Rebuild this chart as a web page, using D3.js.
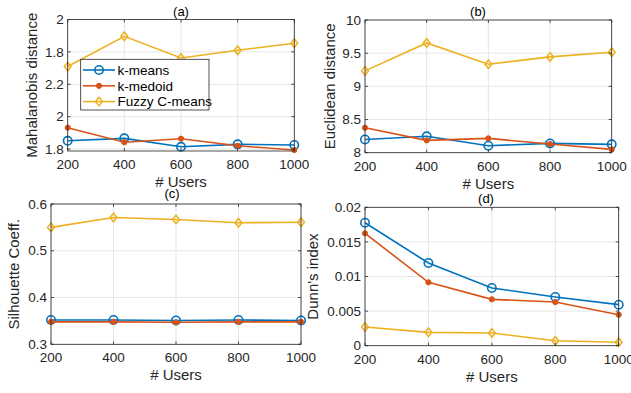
<!DOCTYPE html>
<html>
<head>
<meta charset="utf-8">
<script src="https://cdn.jsdelivr.net/npm/d3@7"></script>
<style>
  body { margin: 0; background: #fff; }
  svg { font-family: "Liberation Sans", Arial, sans-serif; }
</style>
</head>
<body>
<div id="chart"></div>
<script>
// Data
const users = [200, 400, 600, 800, 1000];
const seriesNames = ['k-means', 'k-medoid', 'Fuzzy C-means'];

// (a) plotted on a relabelled axis (ticks 1.8..2.6 shown as 1.8, 2, 2.2, 1.8, 2)
const mahaKmeans = [1.851, 1.866, 1.814, 1.829, 1.825];
const mahaKmedoid = [1.932, 1.842, 1.864, 1.820, 1.794];
const mahaFuzzy = [2.310, 2.496, 2.362, 2.410, 2.453];
const mahaTicks = [1.8, 2.0, 2.2, 2.4, 2.6];
const mahaTickLabels = ['1.8', '2', '2.2', '1.8', '2'];

const euclKmeans = [8.20, 8.247, 8.105, 8.14, 8.126];
const euclKmedoid = [8.376, 8.186, 8.216, 8.13, 8.05];
const euclFuzzy = [9.233, 9.654, 9.334, 9.444, 9.514];
const euclTicks = [8, 8.5, 9, 9.5, 10];
const euclTickLabels = ['8', '8.5', '9', '9.5', '10'];

const silKmeans = [0.352, 0.352, 0.351, 0.352, 0.351];
const silKmedoid = [0.348, 0.348, 0.347, 0.348, 0.348];
const silFuzzy = [0.550, 0.571, 0.567, 0.560, 0.561];
const silTicks = [0.3, 0.4, 0.5, 0.6];
const silTickLabels = ['0.3', '0.4', '0.5', '0.6'];

const dunnKmeans = [0.01777, 0.01195, 0.00834, 0.00704, 0.00593];
const dunnKmedoid = [0.01624, 0.00916, 0.0067, 0.00631, 0.00448];
const dunnFuzzy = [0.0027, 0.00193, 0.00183, 0.00072, 0.00049];
const dunnTicks = [0, 0.005, 0.01, 0.015, 0.02];
const dunnTickLabels = ['0', '0.005', '0.01', '0.015', '0.02'];

const colors = ['#0072BD', '#D95319', '#EDB120'];
const axisColor = '#262626';
const gridColor = '#e6e6e6';

const svg = d3.select('#chart').append('svg')
    .attr('width', 631)
    .attr('height', 393);

function drawMarker(g, type, x, y, color) {
    if (type === 0) {
        g.append('circle').attr('cx', x).attr('cy', y).attr('r', 4.2)
            .attr('fill', 'none').attr('stroke', color).attr('stroke-width', 1.6);
    } else if (type === 1) {
        g.append('circle').attr('cx', x).attr('cy', y).attr('r', 2.6)
            .attr('fill', color).attr('stroke', color).attr('stroke-width', 1);
    } else {
        const s = 4.3;
        g.append('path')
            .attr('d', `M${x},${y - s}L${x + s * 0.8},${y}L${x},${y + s}L${x - s * 0.8},${y}Z`)
            .attr('fill', 'none').attr('stroke', color).attr('stroke-width', 1.5);
    }
}

function drawPanel(p) {
    const x = d3.scaleLinear().domain([200, 1000]).range([p.left, p.right]);
    const y = d3.scaleLinear().domain(p.yDomain).range([p.bottom, p.top]);
    const g = svg.append('g');

    // grid
    g.selectAll('.vgrid').data(users).enter().append('line')
        .attr('x1', d => x(d)).attr('x2', d => x(d))
        .attr('y1', p.top).attr('y2', p.bottom)
        .attr('stroke', gridColor).attr('stroke-width', 1);
    g.selectAll('.hgrid').data(p.ticks).enter().append('line')
        .attr('x1', p.left).attr('x2', p.right)
        .attr('y1', d => y(d)).attr('y2', d => y(d))
        .attr('stroke', gridColor).attr('stroke-width', 1);

    // series
    const line = d3.line().x((d, i) => x(users[i])).y(d => y(d));
    p.series.forEach((vals, si) => {
        g.append('path').datum(vals)
            .attr('d', line)
            .attr('fill', 'none')
            .attr('stroke', colors[si])
            .attr('stroke-width', 1.6);
        vals.forEach((v, i) => drawMarker(g, si, x(users[i]), y(v), colors[si]));
    });

    // box + inward ticks
    g.append('rect')
        .attr('x', p.left).attr('y', p.top)
        .attr('width', p.right - p.left).attr('height', p.bottom - p.top)
        .attr('fill', 'none').attr('stroke', axisColor).attr('stroke-width', 0.8);
    users.forEach(u => {
        g.append('line').attr('x1', x(u)).attr('x2', x(u)).attr('y1', p.bottom).attr('y2', p.bottom - 3)
            .attr('stroke', axisColor).attr('stroke-width', 0.8);
        g.append('line').attr('x1', x(u)).attr('x2', x(u)).attr('y1', p.top).attr('y2', p.top + 3)
            .attr('stroke', axisColor).attr('stroke-width', 0.8);
    });
    p.ticks.forEach(t => {
        g.append('line').attr('x1', p.left).attr('x2', p.left + 3).attr('y1', y(t)).attr('y2', y(t))
            .attr('stroke', axisColor).attr('stroke-width', 0.8);
        g.append('line').attr('x1', p.right).attr('x2', p.right - 3).attr('y1', y(t)).attr('y2', y(t))
            .attr('stroke', axisColor).attr('stroke-width', 0.8);
    });

    // tick labels
    g.selectAll('.xt').data(users).enter().append('text')
        .attr('x', d => x(d)).attr('y', p.bottom + 18)
        .attr('text-anchor', 'middle')
        .attr('font-size', '13.5px').attr('fill', axisColor)
        .text(d => d);
    g.selectAll('.yt').data(p.ticks).enter().append('text')
        .attr('x', p.left - 4).attr('y', d => y(d)).attr('dy', '0.35em')
        .attr('text-anchor', 'end')
        .attr('font-size', '13.5px').attr('fill', axisColor)
        .text((d, i) => p.tickLabels[i]);

    // labels
    g.append('text')
        .attr('x', (p.left + p.right) / 2).attr('y', p.bottom + 36)
        .attr('text-anchor', 'middle').attr('font-size', '15px').attr('fill', axisColor)
        .text('# Users');
    g.append('text')
        .attr('transform', `translate(${p.yLabelX},${(p.top + p.bottom) / 2}) rotate(-90)`)
        .attr('dy', '0.35em')
        .attr('text-anchor', 'middle').attr('font-size', '15px').attr('fill', axisColor)
        .text(p.yLabel);
    g.append('text')
        .attr('x', p.titleX).attr('y', p.titleY)
        .attr('text-anchor', 'middle').attr('font-size', '13px').attr('fill', '#000')
        .text(p.title);
    return { g, x, y };
}

const pa = drawPanel({
    left: 67.7, right: 294.3, top: 19.5, bottom: 151,
    yDomain: [1.788, 2.6], ticks: mahaTicks, tickLabels: mahaTickLabels,
    series: [mahaKmeans, mahaKmedoid, mahaFuzzy],
    yLabel: 'Mahalanobis distance', yLabelX: 32,
    title: '(a)', titleX: 181, titleY: 16
});
drawPanel({
    left: 365, right: 611.7, top: 20, bottom: 152.7,
    yDomain: [8, 10], ticks: euclTicks, tickLabels: euclTickLabels,
    series: [euclKmeans, euclKmedoid, euclFuzzy],
    yLabel: 'Euclidean distance', yLabelX: 330,
    title: '(b)', titleX: 478, titleY: 16
});
drawPanel({
    left: 51, right: 301, top: 204, bottom: 344.3,
    yDomain: [0.3, 0.6], ticks: silTicks, tickLabels: silTickLabels,
    series: [silKmeans, silKmedoid, silFuzzy],
    yLabel: 'Silhouette Coeff.', yLabelX: 14,
    title: '(c)', titleX: 172, titleY: 198
});
drawPanel({
    left: 365, right: 618.7, top: 207.3, bottom: 345.7,
    yDomain: [0, 0.02], ticks: dunnTicks, tickLabels: dunnTickLabels,
    series: [dunnKmeans, dunnKmedoid, dunnFuzzy],
    yLabel: "Dunn's index", yLabelX: 313,
    title: '(d)', titleX: 486, titleY: 203
});

// legend in panel (a)
const leg = pa.g.append('g');
leg.append('rect')
    .attr('x', 80.7).attr('y', 59.3).attr('width', 128.3).attr('height', 50.7)
    .attr('fill', '#fff').attr('stroke', axisColor).attr('stroke-width', 0.8);
seriesNames.forEach((name, i) => {
    const ly = 70 + i * 15.8;
    leg.append('line').attr('x1', 83).attr('x2', 115).attr('y1', ly).attr('y2', ly)
        .attr('stroke', colors[i]).attr('stroke-width', 1.6);
    drawMarker(leg, i, 99, ly, colors[i]);
    leg.append('text').attr('x', 117.5).attr('y', ly).attr('dy', '0.35em')
        .attr('font-size', '13.5px').attr('fill', '#000').text(name);
});
</script>
</body>
</html>
